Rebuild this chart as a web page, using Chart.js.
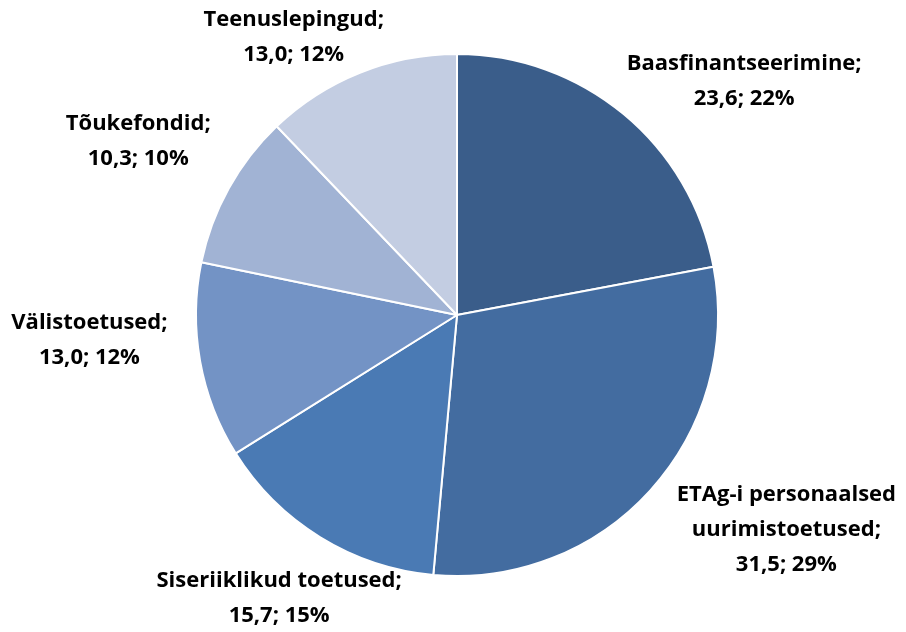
<!DOCTYPE html>
<html>
<head>
<meta charset="utf-8">
<script src="https://cdn.jsdelivr.net/npm/chart.js@4/dist/chart.umd.min.js"></script>
<style>
  html, body { margin: 0; padding: 0; background: #fff; }
  #wrap { width: 906px; height: 632px; }
</style>
</head>
<body>
<div id="wrap"><canvas id="piechart" width="906" height="632"></canvas></div>
<script>
  /* data */
  var labels = ["Baasfinantseerimine", "ETAg-i personaalsed uurimistoetused", "Siseriiklikud toetused", "Välistoetused", "Tõukefondid", "Teenuslepingud"];
  var values = [23.6, 31.5, 15.7, 13.0, 10.3, 13.0];
  var percents = ["22%", "29%", "15%", "12%", "10%", "12%"];
  var sliceColors = ["#3a5d8a", "#436ca0", "#4a7ab4", "#7393c5", "#a1b3d4", "#c3cde2"];

  // label text is wrapped the same way as in the original
  var labelLines = [
    ["Baasfinantseerimine;"],
    ["ETAg-i personaalsed", "uurimistoetused;"],
    ["Siseriiklikud toetused;"],
    ["Välistoetused;"],
    ["Tõukefondid;"],
    ["Teenuslepingud;"]
  ];
  // small hand nudges for the outside labels
  var labelNudge = [[36, 6], [44, -6], [31, 18], [-19, -30], [-14, -23], [-27, 11]];

  var fontSpec = "bold 22px 'Open Sans'";
  var lineH = 35;

  const outsideLabels = {
    id: "outsideLabels",
    afterDatasetsDraw(chart) {
      const ctx = chart.ctx;
      const meta = chart.getDatasetMeta(0);
      ctx.save();
      ctx.font = fontSpec;
      ctx.fillStyle = "#000";
      ctx.textAlign = "center";
      ctx.textBaseline = "middle";
      meta.data.forEach((arc, i) => {
        const mid = (arc.startAngle + arc.endAngle) / 2;
        const dx = Math.cos(mid), dy = Math.sin(mid);
        const lines = labelLines[i].concat([values[i].toFixed(1).replace(".", ",") + "; " + percents[i]]);
        let w = 0;
        lines.forEach(l => { w = Math.max(w, ctx.measureText(l).width); });
        const h = lines.length * lineH;
        const r = arc.outerRadius + 15;
        const cx = arc.x + dx * r + dx * w / 2 + labelNudge[i][0];
        const cy = arc.y + dy * r + dy * h / 2 + labelNudge[i][1];
        lines.forEach((l, k) => {
          ctx.fillText(l, cx, cy - h / 2 + lineH / 2 + k * lineH);
        });
      });
      ctx.restore();
    }
  };

  new Chart("piechart", {
    type: "pie",
    data: {
      labels: labels,
      datasets: [{
        data: values,
        backgroundColor: sliceColors,
        borderColor: "#ffffff",
        borderWidth: 2
      }]
    },
    options: {
      responsive: false,
      animation: false,
      layout: { padding: { left: 195, right: 187, top: 53, bottom: 55 } },
      plugins: {
        legend: { display: false },
        tooltip: { enabled: false }
      }
    },
    plugins: [outsideLabels]
  });
</script>
</body>
</html>
